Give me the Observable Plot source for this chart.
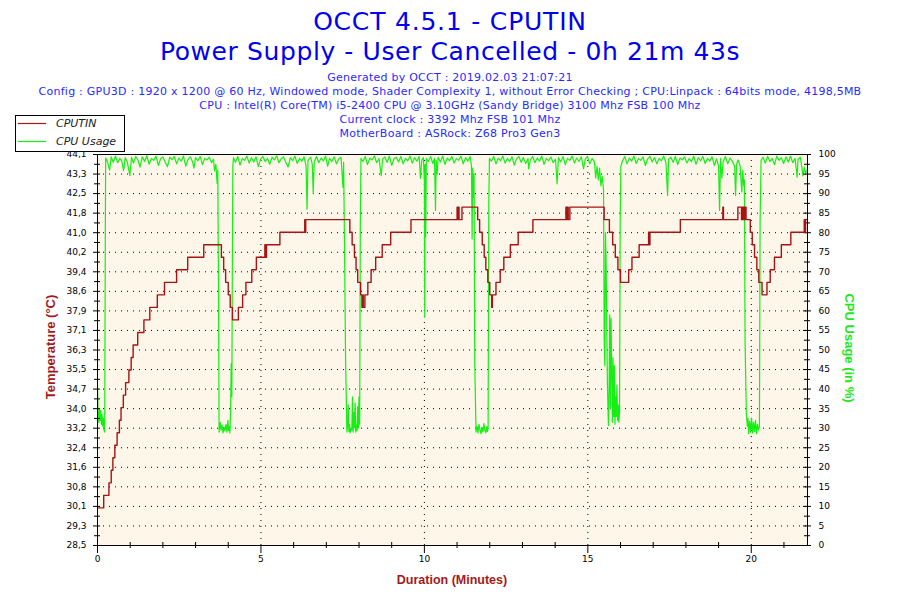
<!DOCTYPE html>
<html><head><meta charset="utf-8">
<script src="https://cdn.jsdelivr.net/npm/d3@7"></script>
<script src="https://cdn.jsdelivr.net/npm/@observablehq/plot@0.6"></script>
<style>
html,body{margin:0;padding:0;background:#fff;}
#root{position:relative;width:900px;height:600px;overflow:hidden;font-family:"DejaVu Sans",Verdana,sans-serif;}
.layer{position:absolute;left:0;top:140px;width:900px;height:460px;}
.layer svg{display:block;}
#overlay{position:absolute;left:0;top:0;pointer-events:none;}
</style></head>
<body><div id="root">
<div class="layer" id="cpuLayer"></div>
<div class="layer" id="tempLayer"></div>
<svg id="overlay" width="900" height="600" xmlns="http://www.w3.org/2000/svg" font-family="DejaVu Sans, Verdana, sans-serif">
  <text x="450" y="30" text-anchor="middle" font-size="25" letter-spacing="0.8" fill="#0000f0">OCCT 4.5.1 - CPUTIN</text>
  <text x="450" y="60" text-anchor="middle" font-size="25" letter-spacing="0.6" fill="#0000f0">Power Supply - User Cancelled - 0h 21m 43s</text>
  <text x="450" y="81" text-anchor="middle" font-size="11" letter-spacing="0.24" fill="#2a2aff">Generated by OCCT : 2019.02.03 21:07:21</text>
  <text x="450" y="95" text-anchor="middle" font-size="11" letter-spacing="0.25" fill="#2a2aff">Config : GPU3D : 1920 x 1200 @ 60 Hz, Windowed mode, Shader Complexity 1, without Error Checking ; CPU:Linpack : 64bits mode, 4198,5MB</text>
  <text x="450" y="109" text-anchor="middle" font-size="11" letter-spacing="0.25" fill="#2a2aff">CPU : Intel(R) Core(TM) i5-2400 CPU @ 3.10GHz (Sandy Bridge) 3100 Mhz FSB 100 Mhz</text>
  <text x="450" y="123" text-anchor="middle" font-size="11" letter-spacing="0.25" fill="#2a2aff">Current clock : 3392 Mhz FSB 101 Mhz</text>
  <text x="450" y="137" text-anchor="middle" font-size="11" letter-spacing="0.25" fill="#2a2aff">MotherBoard : ASRock: Z68 Pro3 Gen3</text>
  <rect x="15.5" y="115.5" width="109" height="36" fill="#fff" stroke="#000" stroke-width="1"/>
  <line x1="18" y1="123.5" x2="46" y2="123.5" stroke="#a51515" stroke-width="1.2"/>
  <text x="56" y="127" font-size="11" font-style="italic" fill="#222">CPUTIN</text>
  <line x1="18" y1="141.5" x2="46" y2="141.5" stroke="#14f014" stroke-width="1.2"/>
  <text x="56" y="145" font-size="11" font-style="italic" fill="#222">CPU Usage</text>
  <text transform="translate(55,347) rotate(-90)" text-anchor="middle" font-family="Liberation Sans, Arial, sans-serif" font-weight="bold" font-size="13" fill="#a31a1a">Temperature (°C)</text>
  <text transform="translate(845,348) rotate(90)" text-anchor="middle" font-family="Liberation Sans, Arial, sans-serif" font-weight="bold" font-size="13" fill="#1ee81e">CPU Usage (in %)</text>
  <text x="452" y="584" text-anchor="middle" font-family="Liberation Sans, Arial, sans-serif" font-weight="bold" font-size="12.5" fill="#a31a1a">Duration (Minutes)</text>
</svg>
</div>
<script>
// ---- data ----
const durationMinutes = [0, 21.72];
const xMajorTicks = [0, 5, 10, 15, 20];
const xMinorTicks = [1,2,3,4,6,7,8,9,11,12,13,14,16,17,18,19,21];
const tempTicks = [28.5, 29.28, 30.06, 30.84, 31.62, 32.4, 33.18, 33.96, 34.74, 35.52, 36.3, 37.08, 37.86, 38.64, 39.42, 40.2, 40.98, 41.76, 42.54, 43.32, 44.1];
const tempTickLabels = ["28,5","29,3","30,1","30,8","31,6","32,4","33,2","34,0","34,7","35,5","36,3","37,1","37,9","38,6","39,4","40,2","41,0","41,8","42,5","43,3","44,1"];
const cpuTicks = [0,5,10,15,20,25,30,35,40,45,50,55,60,65,70,75,80,85,90,95,100];

// CPUTIN temperature (°C) — [minutes, value], stepwise
const tempSteps = [[0,30.0],[0.19,30.5],[0.35,31.0],[0.42,31.5],[0.47,32.0],[0.53,32.5],[0.60,33.0],[0.67,33.5],[0.72,34.0],[0.79,34.5],[0.86,35.0],[0.96,35.5],[1.03,36.0],[1.09,36.5],[1.23,37.0],[1.42,37.5],[1.60,38.0],[1.83,38.5],[2.05,39.0],[2.42,39.5],[2.76,40.0],[3.25,40.5],[3.79,40.0],[3.86,39.5],[3.92,39.0],[4.00,38.5],[4.06,38.0],[4.13,37.5],[4.31,38.0],[4.44,38.5],[4.54,39.0],[4.72,39.5],[4.86,40.0],[5.12,40.5],[5.14,40.0],[5.17,40.5],[5.58,41.0],[6.34,41.5],[6.35,41.0],[6.37,41.5],[7.72,41.0],[7.79,40.5],[7.86,40.0],[7.91,39.5],[7.96,39.0],[8.05,38.5],[8.09,38.0],[8.12,38.5],[8.13,38.0],[8.18,38.5],[8.27,39.0],[8.37,39.5],[8.51,40.0],[8.71,40.5],[8.97,41.0],[9.59,41.5],[11.00,42.0],[11.02,41.5],[11.04,42.0],[11.06,41.5],[11.15,42.0],[11.63,41.5],[11.69,41.0],[11.77,40.5],[11.83,40.0],[11.88,39.5],[11.94,39.0],[12.00,38.5],[12.06,38.0],[12.08,38.5],[12.19,39.0],[12.32,39.5],[12.43,40.0],[12.63,40.5],[12.87,41.0],[13.32,41.5],[14.33,42.0],[14.35,41.5],[14.37,42.0],[14.40,41.5],[14.45,42.0],[15.50,41.5],[15.66,41.0],[15.76,40.5],[15.84,40.0],[15.92,39.5],[16.00,39.0],[16.25,39.5],[16.35,40.0],[16.57,40.5],[16.86,41.0],[16.88,40.5],[16.90,41.0],[17.83,41.5],[19.13,42.0],[19.15,41.5],[19.59,42.0],[19.70,41.5],[19.72,42.0],[19.74,41.5],[19.76,42.0],[19.78,41.5],[19.80,42.0],[19.84,41.5],[19.97,41.0],[20.03,40.5],[20.10,40.0],[20.17,39.5],[20.23,39.0],[20.33,38.5],[20.48,39.0],[20.58,39.5],[20.71,40.0],[20.92,40.5],[21.21,41.0],[21.62,41.5],[21.64,41.0],[21.66,41.5],[21.72,41.5]];

// CPU usage (%) — [minutes, value]
const cpuSamples = [
[0,40.5],[0.02,34.0],[0.04,31.5],[0.06,35.0],[0.08,32.0],[0.10,34.5],[0.12,31.0],[0.14,33.5],[0.16,30.5],[0.18,32.5],[0.20,29.5],[0.22,29.0],[0.24,82.0],[0.25,99.1],
[0.30,98.3],[0.37,96.0],[0.42,99.4],[0.48,98.0],[0.55,99.6],[0.62,97.9],[0.68,99.0],[0.74,98.4],[0.80,95.9],[0.85,99.2],[0.91,98.1],[0.99,94.6],[1.04,99.3],[1.10,97.8],[1.17,99.5],[1.24,98.6],[1.30,96.8],[1.37,99.4],[1.44,98.2],[1.51,99.7],[1.58,97.5],[1.65,99.0],[1.72,98.5],[1.79,99.6],[1.86,97.2],[1.93,98.9],[2.00,99.4],[2.07,98.0],[2.14,96.9],[2.21,99.3],[2.28,98.7],[2.35,99.5],[2.42,97.6],[2.49,99.1],[2.56,98.3],[2.63,99.6],[2.70,97.0],[2.77,98.8],[2.84,99.4],[2.91,98.1],[2.95,96.5],[3.00,99.2],[3.07,98.4],[3.14,99.5],[3.21,97.4],[3.28,99.0],[3.35,98.6],[3.42,99.3],[3.49,97.9],[3.55,98.8],[3.58,95.8],[3.62,97.5],[3.66,92.6],[3.68,96.0],
[3.70,68.6],[3.72,29.0],[3.75,31.5],[3.78,29.5],[3.81,30.8],[3.84,28.8],[3.87,30.2],[3.90,29.3],[3.93,31.0],[3.96,29.0],[3.99,32.0],[4.01,29.4],[4.03,30.5],[4.05,28.8],[4.07,34.0],[4.09,46.5],[4.11,38.0],[4.12,62.0],[4.14,97.0],
[4.16,99.2],[4.22,98.0],[4.29,99.5],[4.36,97.3],[4.43,99.0],[4.50,98.5],[4.57,99.6],[4.64,97.8],[4.71,99.2],[4.78,98.1],[4.85,99.4],[4.92,96.9],[4.99,98.8],[5.06,99.5],[5.13,98.2],[5.20,99.0],[5.27,97.5],[5.34,99.3],[5.41,98.6],[5.48,99.7],[5.55,97.9],[5.62,98.9],[5.69,99.4],[5.76,98.0],[5.83,96.8],[5.90,99.2],[5.97,98.4],[6.04,99.6],[6.11,97.7],[6.18,99.0],[6.25,98.3],[6.32,99.4],[6.38,97.0],[6.41,86.0],[6.44,98.5],[6.52,99.3],[6.57,97.5],[6.60,90.0],[6.63,98.2],[6.70,99.5],[6.77,97.9],[6.84,99.1],[6.91,98.4],[6.98,99.6],[7.04,97.0],[7.10,99.0],[7.17,98.2],[7.24,99.4],[7.31,97.6],[7.38,98.9],[7.45,99.3],[7.51,91.6],[7.53,98.0],
[7.55,81.8],[7.59,47.0],[7.63,29.0],[7.65,30.5],[7.67,36.0],[7.69,29.2],[7.71,31.0],[7.73,28.8],[7.76,30.0],[7.78,29.5],[7.80,38.0],[7.82,29.0],[7.84,34.0],[7.86,30.2],[7.88,36.5],[7.90,29.0],[7.92,30.8],[7.94,29.4],[7.96,35.5],[7.98,30.0],[8.00,38.0],[8.02,31.0],[8.04,82.0],[8.06,99.0],
[8.12,98.2],[8.19,99.5],[8.26,97.4],[8.33,99.1],[8.40,98.6],[8.47,99.6],[8.54,97.9],[8.61,99.0],[8.68,94.6],[8.72,98.8],[8.79,99.4],[8.86,98.0],[8.93,99.6],[9.00,97.2],[9.07,98.9],[9.14,99.3],[9.21,98.1],[9.28,99.5],[9.35,97.6],[9.42,99.0],[9.49,98.4],[9.56,99.6],[9.63,97.8],[9.70,99.2],[9.77,98.3],[9.84,99.5],[9.88,93.9],[9.92,98.6],[9.97,99.2],[10.00,93.0],[10.01,58.4],[10.02,97.5],[10.04,78.9],[10.06,99.0],[10.12,98.2],[10.19,99.5],[10.26,97.7],[10.31,99.0],[10.34,85.7],[10.36,98.5],[10.39,95.0],[10.42,99.3],[10.49,98.1],[10.56,99.6],[10.63,97.5],[10.70,99.1],[10.77,98.4],[10.84,99.5],[10.91,97.8],[10.98,99.0],[11.05,98.5],[11.12,99.6],[11.19,97.6],[11.26,99.2],[11.33,98.3],[11.40,99.5],[11.44,97.0],[11.46,78.4],[11.48,96.5],[11.50,89.0],[11.52,95.0],
[11.54,46.9],[11.58,29.0],[11.61,30.5],[11.64,28.8],[11.67,31.0],[11.70,29.6],[11.73,28.6],[11.76,30.2],[11.79,29.0],[11.82,31.2],[11.85,29.4],[11.88,28.8],[11.91,30.4],[11.93,29.2],[11.95,30.0],[11.97,87.4],[11.99,99.0],
[12.05,98.3],[12.12,99.5],[12.19,97.6],[12.26,99.1],[12.33,98.4],[12.40,99.6],[12.47,97.8],[12.54,99.0],[12.61,98.2],[12.68,99.4],[12.75,97.3],[12.82,98.9],[12.89,99.5],[12.96,98.0],[13.03,99.2],[13.10,97.7],[13.17,99.0],[13.19,96.3],[13.24,98.6],[13.31,99.5],[13.38,97.9],[13.45,99.1],[13.52,98.3],[13.59,99.6],[13.66,97.5],[13.73,99.0],[13.80,98.4],[13.87,99.4],[13.94,97.9],[14.01,98.8],[14.06,92.5],[14.10,99.2],[14.17,98.1],[14.24,99.5],[14.31,97.4],[14.38,99.0],[14.45,98.5],[14.52,99.6],[14.59,97.8],[14.66,99.1],[14.73,98.2],[14.80,99.4],[14.87,96.3],[14.92,98.8],[14.99,99.5],[15.06,97.6],[15.13,99.0],[15.20,98.2],[15.24,94.0],[15.28,97.0],[15.32,93.5],[15.36,96.5],[15.40,92.0],[15.44,94.5],[15.48,91.0],
[15.50,53.0],[15.52,46.0],[15.54,80.0],[15.56,72.0],[15.58,55.0],[15.60,41.0],[15.63,30.7],[15.65,40.0],[15.67,59.0],[15.69,35.0],[15.71,58.0],[15.73,45.0],[15.75,31.5],[15.77,48.0],[15.79,33.0],[15.81,46.0],[15.83,31.0],[15.85,38.0],[15.87,33.0],[15.89,41.0],[15.91,32.0],[15.93,36.0],[15.95,31.5],[15.97,34.0],[15.99,82.3],[16.01,97.0],
[16.06,98.4],[16.13,99.5],[16.20,97.6],[16.27,99.1],[16.34,98.3],[16.41,99.6],[16.48,97.7],[16.55,99.0],[16.62,98.5],[16.69,99.4],[16.76,97.2],[16.83,98.9],[16.90,99.5],[16.97,98.1],[17.04,99.2],[17.11,97.6],[17.18,99.0],[17.25,98.4],[17.32,99.6],[17.39,97.9],[17.44,89.5],[17.47,98.8],[17.54,99.3],[17.61,98.0],[17.68,99.5],[17.75,97.4],[17.82,99.1],[17.89,98.6],[17.96,99.4],[18.03,97.8],[18.10,99.0],[18.17,98.2],[18.24,99.6],[18.31,97.5],[18.38,99.2],[18.45,98.4],[18.52,99.5],[18.59,97.7],[18.66,99.0],[18.73,98.3],[18.80,99.4],[18.87,97.2],[18.94,98.9],[19.00,97.0],[19.03,85.7],[19.06,99.0],[19.10,94.0],[19.14,98.2],[19.21,99.5],[19.28,97.6],[19.35,99.1],[19.42,98.3],[19.49,97.0],[19.52,89.5],[19.55,97.5],[19.60,98.6],[19.66,97.0],[19.71,90.4],[19.74,96.0],[19.77,92.0],[19.79,93.5],
[19.81,52.4],[19.83,42.6],[19.85,33.7],[19.88,30.5],[19.90,32.5],[19.92,28.6],[19.95,31.8],[19.98,29.0],[20.01,32.6],[20.04,28.8],[20.07,31.5],[20.10,29.2],[20.13,32.0],[20.16,28.6],[20.19,31.0],[20.22,29.5],[20.25,30.5],[20.27,83.0],[20.30,98.5],
[20.36,99.3],[20.43,97.8],[20.50,99.5],[20.57,98.2],[20.64,99.0],[20.71,97.4],[20.78,99.6],[20.85,98.5],[20.92,99.2],[20.99,97.7],[21.06,99.4],[21.13,98.1],[21.20,99.6],[21.27,97.9],[21.34,99.0],[21.38,96.0],[21.40,94.2],[21.43,98.8],[21.50,99.3],[21.55,96.5],[21.58,94.5],[21.62,96.8],[21.66,95.2],[21.70,96.0]
];

// ---- layout / style ----
const W = 900, H = 460;
const M = {top: 14, right: 93, bottom: 55, left: 97};
const plotW = W - M.left - M.right;
const plotH = H - M.top - M.bottom;
const RED = "#a51515", GREEN = "#14f014", BG = "#fdf6e9";
const gridStyle = {stroke: "#000", strokeOpacity: 1, strokeWidth: 1, strokeDasharray: "1,5"};

const tempMinor = tempTicks.slice(1).map((d, i) => (d + tempTicks[i]) / 2);
const cpuMinor = cpuTicks.slice(1).map((d, i) => (d + cpuTicks[i]) / 2);

const common = {
  width: W, height: H,
  marginTop: M.top, marginRight: M.right, marginBottom: M.bottom, marginLeft: M.left,
  x: {domain: durationMinutes, axis: null},
  style: {background: "transparent", fontFamily: "DejaVu Sans, Verdana, sans-serif", fontSize: "9px", color: "#000", overflow: "visible"}
};

const cpuPlot = Plot.plot({
  ...common,
  y: {domain: [0, 100], axis: null},
  marks: [
    Plot.frame({fill: BG}),
    Plot.gridY(cpuTicks.slice(1, -1), gridStyle),
    Plot.gridX(xMajorTicks.slice(1), gridStyle),
    Plot.line(cpuSamples, {x: d => d[0], y: d => d[1], stroke: GREEN, strokeWidth: 1.2}),
    Plot.axisY(cpuTicks, {anchor: "right", tickSize: 0, tickPadding: 11, label: null}),
    Plot.tickY(cpuTicks, {y: d => d, insetLeft: plotW - 8, dx: 4, stroke: "#000"}),
    Plot.tickY(cpuMinor, {y: d => d, insetLeft: plotW - 6, dx: 3, stroke: "#000"})
  ]
});
document.getElementById("cpuLayer").appendChild(cpuPlot);

const tempPlot = Plot.plot({
  ...common,
  y: {domain: [28.5, 44.1], axis: null},
  marks: [
    Plot.line(tempSteps, {x: d => d[0], y: d => d[1], curve: "step-after", stroke: RED, strokeWidth: 1.4}),
    Plot.axisY(tempTicks, {anchor: "left", tickSize: 0, tickPadding: 11, label: null,
      tickFormat: d => tempTickLabels[tempTicks.indexOf(d)]}),
    Plot.tickY(tempTicks, {y: d => d, insetRight: plotW - 7, dx: -4, stroke: "#000"}),
    Plot.tickY(tempMinor, {y: d => d, insetRight: plotW - 6, dx: -3, stroke: "#000"}),
    Plot.axisX(xMajorTicks, {anchor: "bottom", tickSize: 0, tickPadding: 10, label: null}),
    Plot.tickX(xMajorTicks, {x: d => d, insetTop: plotH - 8, dy: 8, stroke: "#000"}),
    Plot.tickX(xMinorTicks, {x: d => d, insetTop: plotH - 6, dy: 3, stroke: "#000"}),
    Plot.frame({stroke: "#000"})
  ]
});
document.getElementById("tempLayer").appendChild(tempPlot);
</script>
</body></html>
